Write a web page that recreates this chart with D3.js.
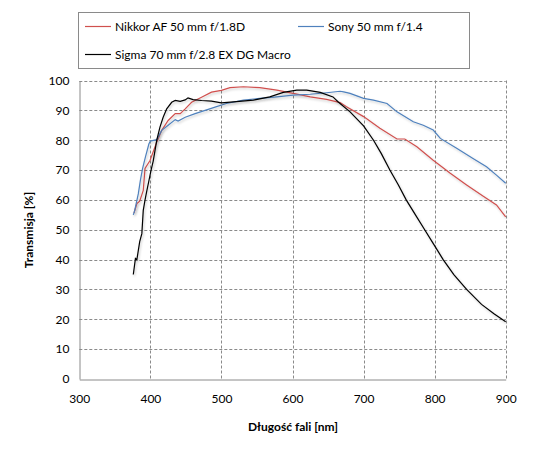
<!DOCTYPE html>
<html><head><meta charset="utf-8">
<script src="https://cdn.jsdelivr.net/npm/d3@7"></script>
<style>body{margin:0;background:#fff;} text{font-family:Lato,"Open Sans",sans-serif;}</style>
</head><body><svg id="c" width="550" height="449"></svg>
<script>
const seriesNames = ["Nikkor AF 50 mm f/1.8D","Sony 50 mm f/1.4","Sigma 70 mm f/2.8 EX DG Macro"];
const seriesColors = ["#d0504e","#4f81bd","#000000"];
const xTicks = [300,400,500,600,700,800,900];
const yTicks = [0,10,20,30,40,50,60,70,80,90,100];

const nikkorNm = [377,381,385,390,392.5,399.5,409,416,425,435,442,449,458,472,486,500,512,531,554,578,601,625,648,667,676,700,723,747,758,775,798,822,845,869,887,900];
const nikkorT  = [55.6,58.8,59.6,63.2,70.5,73.2,79.4,83.3,86.6,88.9,88.9,90.5,92.7,94.4,96.1,96.7,97.6,97.9,97.6,96.8,95.7,94.5,93.7,92.6,91.2,87.9,84,80.4,80.4,77.8,73.3,68.9,65,61.1,58.3,54.3];

const sonyNm = [376,378,383,386,389,393,398,400,409,416,425,435,439,449,463,477,491,507,531,554,578,601,625,648,667,672,681,700,714,733,747,770,784,798,808,831,854,873,887,900];
const sonyT  = [55,56.5,62,66.6,70.5,74.3,78.8,79.7,80.2,83.3,85,86.9,86.4,87.7,88.9,90,91.1,92.3,93.4,94,94.5,95.1,95.4,95.9,96.4,96.2,95.7,94,93.4,92.3,89.5,86.2,85,83.4,80.6,77.3,73.9,71.1,68.3,65.6];

const sigmaNm = [376,379,381,385,388,390,392.5,395,398,401,404,409,413.5,418,423,430,435,442,449,453,460,472,486,500,521,545,568,587,606,620,639,657,664,681,700,714,725,737,749,760,773,786,799,812,827,845,866,884,900];
const sigmaT  = [35,40.4,40,46,48.7,56.5,60,63,66.5,70,73,80,84.4,87.7,90.5,92.7,93.3,93,93.5,94.2,93.6,93.3,93.1,92.5,92.9,93.4,94.5,96,96.8,96.8,96,94.5,92.9,89.5,84.8,80,75.5,70,65,60,55,50,45,40,35,30,25,21.8,19.2];

const svg = d3.select("#c");
const pL=79.3, pR=505.7, pT=80.5, pB=379;
const x = d3.scaleLinear().domain([300,900]).range([pL,pR]);
const y = d3.scaleLinear().domain([0,100]).range([pB,pT]);

const defs = svg.append("defs");
const f = defs.append("filter").attr("id","sh").attr("x","-10%").attr("y","-10%").attr("width","120%").attr("height","120%");
f.append("feDropShadow").attr("dx",1).attr("dy",1.5).attr("stdDeviation",1).attr("flood-color","#000").attr("flood-opacity",0.22);

// gridlines
const g = svg.append("g");
g.selectAll(".gy").data(yTicks.filter(d=>d>0)).enter().append("line")
 .attr("x1",pL).attr("x2",pR).attr("y1",d=>Math.round(y(d))+0.5).attr("y2",d=>Math.round(y(d))+0.5)
 .attr("stroke","#8a8a8a").attr("stroke-dasharray","3,2").attr("stroke-width",1);
g.selectAll(".gx").data(xTicks.filter(d=>d>300)).enter().append("line")
 .attr("y1",pT).attr("y2",pB).attr("x1",d=>Math.round(x(d))+0.5).attr("x2",d=>Math.round(x(d))+0.5)
 .attr("stroke","#8a8a8a").attr("stroke-dasharray","3,2").attr("stroke-width",1);

// axes
const yAxis = d3.axisLeft(y).tickValues(yTicks).tickSize(0).tickPadding(10);
const xAxis = d3.axisBottom(x).tickValues(xTicks).tickSize(0).tickPadding(15);
const ya = svg.append("g").attr("transform",`translate(${Math.round(pL)+0.5},0)`).call(yAxis);
const xa = svg.append("g").attr("transform",`translate(0,${Math.round(pB)+0.5})`).call(xAxis);
[ya,xa].forEach(a=>{a.select(".domain").attr("stroke","#8a8a8a");a.selectAll("text").attr("font-size",12).attr("fill","#000").attr("font-family","Lato");});

// lines
const datasets = [[nikkorNm,nikkorT],[sonyNm,sonyT],[sigmaNm,sigmaT]];
const line = d3.line().x(d=>x(d[0])).y(d=>y(d[1])).curve(d3.curveLinear);
[0,1,2].forEach(i=>{
  const data = d3.zip(datasets[i][0],datasets[i][1]);
  svg.append("path").datum(data).attr("d",line).attr("fill","none")
    .attr("stroke",seriesColors[i]).attr("stroke-width",1.2).attr("filter","url(#sh)");
});

// axis titles
svg.append("text").attr("transform",`translate(33,230) rotate(-90)`).attr("text-anchor","middle")
  .attr("font-weight","bold").attr("font-size",12).text("Transmisja [%]");
svg.append("text").attr("x",293).attr("y",431).attr("text-anchor","middle")
  .attr("font-weight","bold").attr("font-size",12).text("Długość fali [nm]");

// legend
svg.append("rect").attr("x",78.5).attr("y",12.5).attr("width",391).attr("height",56).attr("fill","#fff").attr("stroke","#8a8a8a");
const legPos = [[85,26],[298,26],[85,54]];
legPos.forEach((p,i)=>{
  svg.append("line").attr("x1",p[0]).attr("x2",p[0]+26).attr("y1",p[1]+0.5).attr("y2",p[1]+0.5).attr("stroke",seriesColors[i]).attr("stroke-width",1.2);
  svg.append("text").attr("x",p[0]+30).attr("y",p[1]+4.5).attr("font-size",12).text(seriesNames[i]);
});
</script></body></html>
